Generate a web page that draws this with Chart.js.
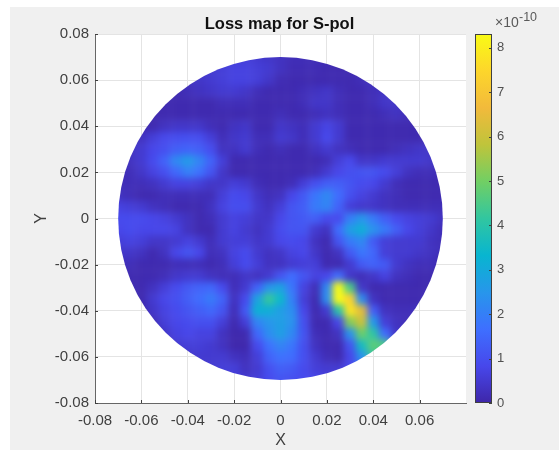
<!DOCTYPE html>
<html><head><meta charset="utf-8">
<style>html,body{margin:0;padding:0;background:#fff}canvas{display:block}</style>
<script src="https://cdn.jsdelivr.net/npm/chart.js@4"></script>
</head><body><canvas id="c" width="559" height="450"></canvas>
<script>
const _ = null;
const titleText = 'Loss map for S-pol';
const xGrid = [-.075,-.07,-.065,-.06,-.055,-.05,-.045,-.04,-.035,-.03,-.025,-.02,-.015,-.01,-.005,0,.005,.01,.015,.02,.025,.03,.035,.04,.045,.05,.055,.06,.065,.07,.075];
const yGrid = [.075,.07,.065,.06,.055,.05,.045,.04,.035,.03,.025,.02,.015,.01,.005,0,-.005,-.01,-.015,-.02,-.025,-.03,-.035,-.04,-.045,-.05,-.055,-.06,-.065,-.07,-.075];
// loss values in units of 1e-10, one row per yGrid entry
const lossRows = [
[_,_,_,_,_,_,_,_,_,_,.4,.5,.5,.5,.4,.3,.2,.2,.2,.2,.2,_,_,_,_,_,_,_,_,_,_],
[_,_,_,_,_,_,_,_,.3,.4,.5,.6,.6,.5,.4,.3,.2,.2,.2,.2,.2,.2,.2,_,_,_,_,_,_,_,_],
[_,_,_,_,_,_,.2,.3,.4,.5,.6,.7,.7,.6,.5,.3,.15,.15,.15,.1,.1,.1,.1,.1,.1,_,_,_,_,_,_],
[_,_,_,_,_,.1,.2,.3,.4,.5,.6,.7,.7,.6,.4,.15,.1,.1,.1,.1,.1,.1,.2,.3,.3,.2,_,_,_,_,_],
[_,_,_,_,.1,.1,.1,.2,.3,.4,.5,.5,.4,.2,.1,.1,.1,.2,.3,.4,.2,.1,.1,.2,.35,.35,.2,_,_,_,_],
[_,_,_,.1,.1,.1,.1,.1,.1,.1,.2,.2,.2,.1,.1,.1,.1,.2,.4,.4,.2,.1,.1,.2,.4,.4,.3,.2,_,_,_],
[_,_,.2,.1,.1,.1,.1,.1,.1,.1,.1,.1,.1,.1,.1,.2,.1,.1,.2,.3,.2,.1,.1,.1,.2,.3,.2,.1,.1,_,_],
[_,_,.2,.1,.1,.3,.4,.4,.4,.2,.1,.3,.4,.1,.1,.4,.3,.2,.5,.75,.5,.1,.1,.1,.1,.1,.1,.1,.1,_,_],
[_,.2,.2,.3,.6,.85,.95,1,.95,.6,.2,.4,.5,.2,.2,.5,.4,.2,.5,.85,.5,.1,.1,.1,.1,.1,.1,.1,.1,.1,_],
[_,.2,.3,.5,.8,1,1.3,1.4,1.3,.95,.3,.3,.5,.2,.1,.2,.1,.1,.3,.5,.3,.2,.1,.1,.1,.2,.3,.4,.4,.4,_],
[.2,.2,.3,.5,.9,1.4,2.2,2.6,2.1,1.4,.6,.1,.1,.1,.1,.1,.1,.1,.1,.2,.6,.85,.4,.4,.5,.5,.5,.5,.4,.3,.3],
[.2,.2,.2,.4,.7,1,1.5,2,1.7,1.1,.4,.1,.1,.1,.1,.1,.1,.1,.2,.5,.8,1,1.1,1.1,.9,.6,.3,.2,.2,.2,.2],
[.2,.2,.2,.2,.3,.5,.7,.7,.6,.4,.4,.6,.5,.2,.1,.1,.2,.6,1,1.3,1.3,1.1,.9,.8,.5,.2,.1,.1,.1,.1,.1],
[.4,.3,.2,.1,.1,.2,.2,.2,.2,.2,.6,.9,.8,.4,.2,.3,.8,1.2,1.8,2.2,1.6,1,.7,.5,.3,.2,.1,.1,.1,.1,.1],
[.7,.7,.6,.5,.3,.2,.1,.1,.1,.3,.7,.95,.95,.5,.3,.6,1.1,1.3,1.9,2.1,1.4,.6,.45,.4,.3,.2,.2,.2,.2,.2,.2],
[.9,.9,.9,.9,.8,.7,.5,.3,.1,.2,.5,.7,.6,.4,.4,.8,1.1,1.2,1.3,.9,.9,2,2.5,1.9,1.3,.9,.7,.6,.5,.3,.3],
[.8,.8,.9,.8,.8,.8,.7,.3,.1,.1,.5,.7,.5,.3,.5,.9,1.1,1.1,.5,.3,1.6,2.7,3.1,2.4,1.9,1.3,.8,.6,.4,.2,.2],
[.6,.6,.7,.6,.4,.4,.5,.7,.5,.2,.5,.6,.6,.4,.5,.8,.9,.8,.3,.1,1.1,1.9,2.2,1.2,.6,.5,.5,.5,.3,.2,.2],
[.4,.4,.4,.3,.1,.3,.8,1.1,.8,.2,.3,.7,.9,.5,.3,.4,.7,.8,.4,.1,.3,1.2,1.8,1.5,.6,.5,.5,.4,.3,.2,.2],
[.2,.2,.2,.1,.1,.1,.2,.2,.2,.1,.2,.6,.9,.6,.3,.3,.5,.6,.6,.1,.1,.5,1.2,1.4,1.2,.5,.3,.2,.2,.1,.1],
[.1,.1,.1,.1,.1,.2,.4,.5,.5,.3,.2,.2,.4,.3,.5,1.1,1.6,1.1,.7,.8,1.6,.4,.2,.4,.7,.3,.2,.1,.1,.1,.1],
[.1,.1,.1,.1,.3,.6,.9,1.2,1.4,1.5,.9,.2,.5,1.4,2.5,2.8,1.8,.7,.2,2.2,8.3,4.5,.4,.1,.1,.1,.1,.1,.1,.1,.1],
[.1,.1,.1,.1,.5,.8,1,1.3,1.6,1.9,1.4,.3,.9,2.8,4.2,3.4,2,.6,.1,2.3,8.3,7.4,2.3,.3,.1,.1,.1,.1,.3,.4,.3],
[.1,.1,.1,.1,.4,.7,.9,1.1,1.3,1.5,1.1,.2,1.2,3.2,3.1,2.7,2.3,.8,.1,.5,4,7.8,6.4,1.3,.3,.2,.2,.3,.3,.1,.1],
[.1,.1,.1,.1,.2,.6,.8,.9,1,1,.6,.1,.6,2.1,2.5,2.7,2.4,1,.1,.1,.8,5.2,6,2.6,.6,.3,.2,.2,.1,.1,.1],
[.1,.1,.1,.1,.1,.4,.7,.8,.7,.7,.3,.05,.1,1.5,2.3,2.7,2.2,1.1,.2,.1,.3,2.4,4.9,4.1,1.6,.4,.2,.1,.1,.1,.1],
[_,_,.1,.1,.1,.2,.5,.6,.6,.5,.3,.05,.05,.9,1.7,2.1,1.8,1,.3,.1,.1,1.1,3.6,4.7,4.5,1,.3,_,_,_,_],
[_,_,_,_,_,_,.3,.4,.5,.5,.5,.3,.2,.6,1.4,1.7,1.6,1,.5,.2,.1,.8,2.4,4.2,4,_,_,_,_,_,_],
[_,_,_,_,_,_,_,_,.4,.5,.6,.6,.3,.5,1,1.3,1.2,.9,.6,.5,.5,.8,1.3,_,_,_,_,_,_,_,_],
[_,_,_,_,_,_,_,_,_,_,.6,.6,.5,.6,.9,1.1,1,.9,.8,.7,.7,_,_,_,_,_,_,_,_,_,_],
[_,_,_,_,_,_,_,_,_,_,.6,.6,.5,.6,.9,1.1,1,.9,.8,.7,.7,_,_,_,_,_,_,_,_,_,_]
];
const xTickValues = [-.08,-.06,-.04,-.02,0,.02,.04,.06];
const yTickValues = [-.08,-.06,-.04,-.02,0,.02,.04,.06,.08];
const colorbarTicks = [0,1,2,3,4,5,6,7,8];
const colorMax = 8.31;
const circleRadius = .07;
const parula = [[62,38,168],[71,71,235],[62,111,255],[39,150,235],[8,181,208],[49,198,160],[113,207,100],[191,196,59],[242,186,59],[253,214,43],[249,251,21]];

function colorAt(v){
  const t = Math.max(0,Math.min(1,v/colorMax))*(parula.length-1);
  const i = Math.min(parula.length-2,Math.floor(t)), f = t-i;
  const c = parula[i].map((a,k)=>Math.round(a+(parula[i+1][k]-a)*f));
  return `rgb(${c[0]},${c[1]},${c[2]})`;
}
const cells = [];
yGrid.forEach((y,r)=>xGrid.forEach((x,c)=>{
  if(lossRows[r][c]!==null) cells.push({x,y,v:lossRows[r][c]});
}));
function fmt(v){ if(Math.abs(v)<1e-9) return '0'; return v.toFixed(2); }
function noPad(s){ s.paddingTop=0; s.paddingBottom=0; s.paddingLeft=0; s.paddingRight=0; }

let snapshot = null;
const surface = {
  id:'surface',
  beforeDraw(ch){
    const g=ch.ctx; g.save();
    g.fillStyle='#fff'; g.fillRect(0,0,ch.width,ch.height);
    g.fillStyle='#f0f0f0'; g.fillRect(10,7,549,443);
    const a=ch.chartArea; g.fillStyle='#fff'; g.fillRect(a.left,a.top,a.width,a.height);
    g.restore();
  },
  beforeDatasetsDraw(ch){
    snapshot=document.createElement('canvas');
    snapshot.width=ch.canvas.width; snapshot.height=ch.canvas.height;
    snapshot.getContext('2d').drawImage(ch.canvas,0,0);
  },
  afterDatasetsDraw(ch){
    const tmp=document.createElement('canvas');
    tmp.width=ch.canvas.width; tmp.height=ch.canvas.height;
    const t=tmp.getContext('2d'); t.filter='blur(3.5px)'; t.drawImage(ch.canvas,0,0);
    const g=ch.ctx,xs=ch.scales.x,ys=ch.scales.y;
    g.save();
    g.drawImage(snapshot,0,0);
    const cx=xs.getPixelForValue(0),cy=ys.getPixelForValue(0);
    const rx=xs.getPixelForValue(circleRadius)-cx, ry=cy-ys.getPixelForValue(circleRadius);
    g.beginPath(); g.ellipse(cx,cy,rx,ry,0,0,Math.PI*2); g.clip();
    g.drawImage(tmp,0,0);
    g.restore();
  },
  afterDraw(ch){
    const g=ch.ctx,xs=ch.scales.x,ys=ch.scales.y,cb=ch.scales.cb,a=ch.chartArea;
    g.save();
    g.strokeStyle='#404040'; g.lineWidth=1;
    g.beginPath();
    xTickValues.forEach(v=>{const p=Math.round(xs.getPixelForValue(v))+.5; g.moveTo(p,a.bottom); g.lineTo(p,a.bottom-3);});
    yTickValues.forEach(v=>{const p=Math.round(ys.getPixelForValue(v))+.5; g.moveTo(a.left,p); g.lineTo(a.left+3,p);});
    g.stroke();
    // colour bar
    const L=475,W=17,T=cb.getPixelForValue(colorMax),B=cb.getPixelForValue(0);
    const grad=g.createLinearGradient(0,B,0,T);
    for(let i=0;i<parula.length;i++) grad.addColorStop(i/(parula.length-1),`rgb(${parula[i].join(',')})`);
    g.fillStyle=grad; g.fillRect(L,T,W,B-T);
    g.strokeStyle='#404040'; g.strokeRect(L+.5,T+.5,W-1,B-T-1);
    g.beginPath();
    colorbarTicks.forEach(v=>{const p=Math.round(cb.getPixelForValue(v))+.5; g.moveTo(L+W,p); g.lineTo(L+W-3,p);});
    g.stroke();
    g.fillStyle='#5a5a5a'; g.textBaseline='middle'; g.textAlign='left';
    g.font='14px "Liberation Sans"'; g.fillText('\u00d710',495,23);
    g.font='12.5px "Liberation Sans"'; g.fillText('-10',519,18);
    g.restore();
  }
};

new Chart(document.getElementById('c'),{
  type:'scatter',
  data:{datasets:[{
    data:cells, pointStyle:'rect', pointRadius:8.4, pointHoverRadius:8.4, pointBorderWidth:0,
    backgroundColor:ctx=>ctx.raw?colorAt(ctx.raw.v):'transparent'
  }]},
  plugins:[surface],
  options:{
    responsive:false, animation:false, devicePixelRatio:1,
    layout:{padding:0,autoPadding:false},
    events:[],
    plugins:{
      legend:{display:false}, tooltip:{enabled:false},
      title:{display:true,text:titleText,color:'#111',font:{family:'"Liberation Sans"',size:16.5,weight:'bold',lineHeight:1.2},padding:{top:15,bottom:-.8}}
    },
    scales:{
      x:{type:'linear',min:-.08,max:.08,
        afterFit(s){s.height=47;noPad(s);},
        afterBuildTicks(s){s.ticks=xTickValues.map(value=>({value}));},
        grid:{color:'#e4e4e4',drawTicks:false},
        border:{display:true,color:'#666'},
        ticks:{padding:9,color:'#404040',maxRotation:0,autoSkip:false,font:{family:'"Liberation Sans"',size:15},callback:fmt},
        title:{display:true,text:'X',color:'#404040',font:{family:'"Liberation Sans"',size:16},padding:{top:1,bottom:0}}
      },
      y:{type:'linear',min:-.08,max:.08,
        afterFit(s){s.width=95;noPad(s);},
        afterBuildTicks(s){s.ticks=yTickValues.map(value=>({value}));},
        grid:{color:'#e4e4e4',drawTicks:false},
        border:{display:true,color:'#666'},
        ticks:{padding:6,color:'#404040',autoSkip:false,font:{family:'"Liberation Sans"',size:15},callback:fmt},
        title:{display:true,text:'Y',color:'#404040',font:{family:'"Liberation Sans"',size:16},padding:{top:32,bottom:0}}
      },
      cb:{type:'linear',axis:'y',position:'right',min:0,max:colorMax,
        afterFit(s){s.width=93;noPad(s);},
        afterBuildTicks(s){s.ticks=colorbarTicks.map(value=>({value}));},
        grid:{display:false,drawTicks:false},
        border:{display:false},
        ticks:{padding:31,color:'#505050',autoSkip:false,font:{family:'"Liberation Sans"',size:13},callback:v=>String(v)}
      }
    }
  }
});
</script></body></html>
